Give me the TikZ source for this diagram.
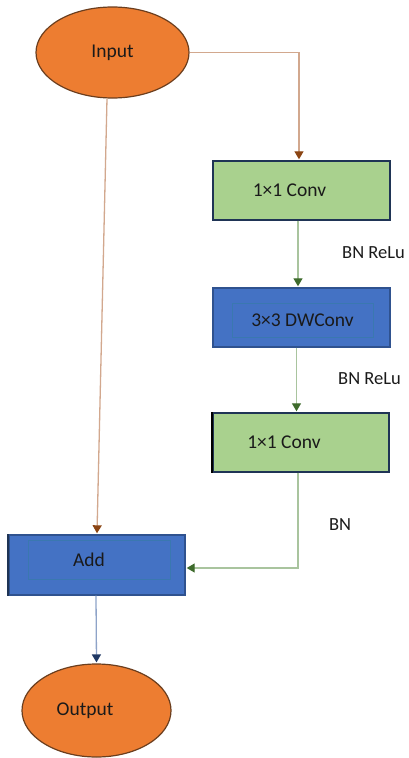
\documentclass[tikz,border=0pt]{standalone}
\usepackage{fontspec}
\setmainfont{Carlito}
\usetikzlibrary{arrows.meta,shapes.geometric,calc}
\definecolor{orfill}{HTML}{ED7D31}
\definecolor{orline}{HTML}{6B3E1E}
\definecolor{grfill}{HTML}{A9D18E}
\definecolor{navy}{HTML}{1F3455}
\definecolor{blfill}{HTML}{4472C4}
\definecolor{blline}{HTML}{2F528F}
\definecolor{blinner}{HTML}{3A78B0}
\definecolor{brline}{HTML}{D2A88E}
\definecolor{brtip}{HTML}{8B4513}
\definecolor{gnline}{HTML}{A9C49E}
\definecolor{gntip}{HTML}{3E6B2C}
\definecolor{bgline}{HTML}{8EA3C8}
\definecolor{bgtip}{HTML}{203864}
\definecolor{txt}{HTML}{1A1A1A}
\begin{document}
\begin{tikzpicture}[x=1pt,y=-1pt,
  every node/.style={font=\fontsize{19.5}{22}\selectfont, text=txt, inner sep=0pt},
  ovalnode/.style={ellipse, draw=orline, line width=1.2pt, fill=orfill},
  greenbox/.style={rectangle, draw=navy, line width=1.4pt, fill=grfill},
  bluebox/.style={rectangle, draw=blline, line width=1.4pt, fill=blfill},
  innerbox/.style={rectangle, draw=blinner, line width=0.6pt},
  lbl/.style={font=\fontsize{18.5}{22}\selectfont},
  brarrow/.style={draw=brline, line width=1.3pt, -{Triangle[width=9pt,length=8pt,color=brtip]}},
  gnarrow/.style={draw=gnline, line width=1.3pt, -{Triangle[width=9pt,length=8pt,color=gntip]}},
  bgarrow/.style={draw=bgline, line width=1.3pt, -{Triangle[width=9pt,length=8pt,color=bgtip]}}
]
\useasboundingbox (0,0) rectangle (409,758);

\node[ovalnode, minimum width=153pt, minimum height=91pt] (in) at (112.5,52.5) {Input};
\node[greenbox, minimum width=177pt, minimum height=59pt] (c1) at (301.5,190.5) {1×1 Conv\hspace*{24pt}};
\node[bluebox, minimum width=177pt, minimum height=59pt] (dw) at (301.5,317.5) {};
\node[innerbox, minimum width=141pt, minimum height=34pt] (dwin) at (302.5,320) {3×3 DWConv};
\node[greenbox, minimum width=176pt, minimum height=59pt] (c2) at (301,442.5) {1×1 Conv\hspace*{34pt}};
\draw[black, line width=2.2pt] (c2.north west) -- (c2.south west);
\node[bluebox, minimum width=176pt, minimum height=60pt] (add) at (97,565) {};
\draw[navy, line width=2.2pt] (add.north west) -- (add.south west);
\node[innerbox, minimum width=142pt, minimum height=39pt] (addin) at (99,559.5) {Add\hspace*{20pt}};
\node[ovalnode, minimum width=149pt, minimum height=93pt] (out) at (96.5,710.5) {Output\hspace*{23pt}};

\node[lbl] (l1) at (373.5,253) {BN ReLu};
\node[lbl] (l2) at (369.5,379) {BN ReLu};
\node[lbl] (l3) at (340,525) {BN};

\coordinate (c1top) at ($(c1.north)+(-2.5,-1)$);
\draw[brarrow] (in.east) -| (c1top);
\draw[brarrow] ($(in.south)+(-5.5,0)$) -- ($(add.north)+(0,-1)$);
\draw[gnarrow] ($(c1.south)+(-3.5,0)$) -- ($(dw.north)+(-3.5,-1)$);
\draw[gnarrow] ($(dw.south)+(-5,0)$) -- ($(c2.north)+(-4.5,-1)$);
\coordinate (addr) at ($(add.east)+(1,3)$);
\draw[gnarrow] ($(c2.south)+(-3,0)$) |- (addr);
\draw[bgarrow] ($(add.south)+(-1,0)$) -- ($(out.north)+(0,-1)$);
\end{tikzpicture}
\end{document}
